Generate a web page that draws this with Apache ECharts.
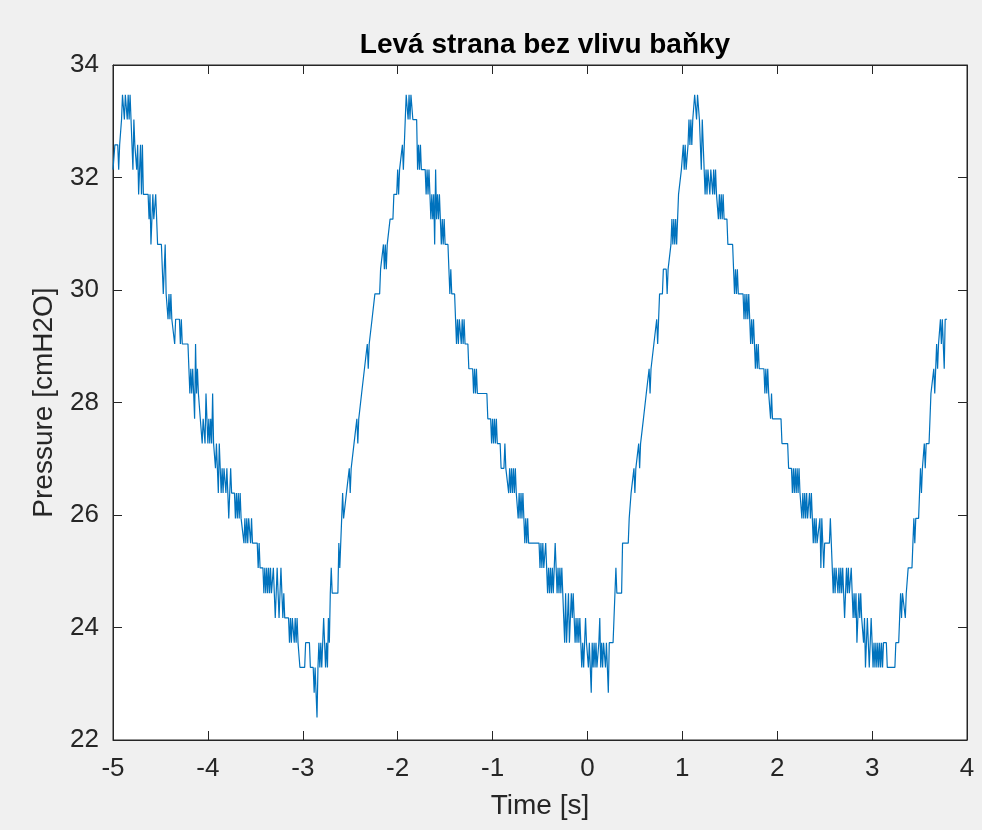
<!DOCTYPE html>
<html>
<head>
<meta charset="utf-8">
<script src="https://cdn.jsdelivr.net/npm/echarts@6/dist/echarts.min.js"></script>
<style>
html,body{margin:0;padding:0;background:#f0f0f0;}
#chart{width:982px;height:830px;}
</style>
</head>
<body>
<div id="chart"></div>
<script>
const chartTitle = 'Levá strana bez vlivu baňky';
const xAxisName = 'Time [s]';
const yAxisName = 'Pressure [cmH2O]';
const xRange = [-5, 4];
const yRange = [22, 34];

// [time (s), pressure (cmH2O)]
const trace = [
[-5.00,32.14],[-4.98,32.58],[-4.95,32.58],[-4.94,32.14],[-4.93,32.58],[-4.92,32.58],[-4.91,33.03],[-4.90,33.47],[-4.89,33.47],[-4.88,33.03],[-4.87,33.47],[-4.86,33.47],[-4.85,33.03],[-4.84,33.47],[-4.83,33.03],[-4.82,33.47],[-4.81,33.03],[-4.80,33.03],[-4.79,32.14],[-4.78,33.03],[-4.77,32.58],[-4.76,32.58],[-4.75,32.14],[-4.74,32.58],[-4.73,31.70],[-4.72,32.14],[-4.71,32.58],[-4.70,31.70],[-4.69,32.58],[-4.68,31.70],[-4.63,31.70],[-4.62,31.26],[-4.61,31.70],[-4.60,30.81],[-4.59,31.26],[-4.58,31.70],[-4.57,31.26],[-4.56,31.26],[-4.55,31.70],[-4.54,31.26],[-4.53,30.81],[-4.49,30.81],[-4.48,30.37],[-4.47,29.93],[-4.46,29.93],[-4.45,30.81],[-4.44,29.93],[-4.43,29.93],[-4.42,29.48],[-4.41,29.93],[-4.40,29.48],[-4.39,29.93],[-4.38,29.48],[-4.36,29.48],[-4.35,29.04],[-4.34,29.48],[-4.30,29.48],[-4.29,29.04],[-4.28,29.48],[-4.27,29.04],[-4.21,29.04],[-4.20,28.60],[-4.19,28.16],[-4.18,28.60],[-4.17,28.16],[-4.16,28.60],[-4.15,28.16],[-4.14,27.71],[-4.13,29.04],[-4.12,28.16],[-4.11,28.60],[-4.10,28.16],[-4.09,28.16],[-4.08,27.71],[-4.07,27.71],[-4.06,27.27],[-4.05,27.71],[-4.04,27.71],[-4.03,27.27],[-4.02,28.16],[-4.01,27.71],[-4.00,27.27],[-3.99,27.71],[-3.98,27.27],[-3.97,27.71],[-3.96,27.27],[-3.95,28.16],[-3.94,27.27],[-3.93,27.27],[-3.92,26.83],[-3.91,27.27],[-3.90,26.83],[-3.89,26.39],[-3.88,27.27],[-3.87,26.83],[-3.86,26.39],[-3.85,26.83],[-3.84,26.39],[-3.83,26.83],[-3.82,26.83],[-3.81,26.39],[-3.80,26.83],[-3.79,26.39],[-3.78,25.94],[-3.77,26.39],[-3.76,26.83],[-3.75,26.39],[-3.72,26.39],[-3.71,25.94],[-3.70,26.39],[-3.69,25.94],[-3.68,26.39],[-3.67,25.94],[-3.66,26.39],[-3.65,25.94],[-3.63,25.94],[-3.62,25.50],[-3.61,25.94],[-3.60,25.50],[-3.59,25.94],[-3.58,25.50],[-3.57,25.94],[-3.56,25.94],[-3.55,25.50],[-3.54,25.94],[-3.53,25.50],[-3.48,25.50],[-3.47,25.06],[-3.46,25.50],[-3.45,25.06],[-3.42,25.06],[-3.41,24.61],[-3.40,25.06],[-3.39,24.61],[-3.38,25.06],[-3.37,24.61],[-3.36,25.06],[-3.35,24.61],[-3.34,25.06],[-3.33,24.61],[-3.32,24.61],[-3.31,25.06],[-3.30,24.61],[-3.29,24.17],[-3.28,24.61],[-3.27,25.06],[-3.26,24.61],[-3.25,24.17],[-3.24,24.61],[-3.23,25.06],[-3.22,24.61],[-3.21,24.17],[-3.20,24.61],[-3.19,24.17],[-3.15,24.17],[-3.14,23.73],[-3.13,24.17],[-3.12,23.73],[-3.11,24.17],[-3.10,24.17],[-3.09,23.73],[-3.08,24.17],[-3.07,23.73],[-3.06,24.17],[-3.05,23.73],[-3.04,23.73],[-3.03,23.29],[-2.98,23.29],[-2.97,23.73],[-2.93,23.73],[-2.92,23.29],[-2.89,23.29],[-2.88,22.84],[-2.87,23.29],[-2.86,22.84],[-2.85,22.40],[-2.84,23.29],[-2.83,23.73],[-2.82,23.29],[-2.81,23.73],[-2.80,23.29],[-2.79,23.73],[-2.78,24.17],[-2.77,23.73],[-2.76,23.29],[-2.75,23.73],[-2.74,23.29],[-2.73,24.17],[-2.72,23.73],[-2.71,24.61],[-2.70,25.06],[-2.69,24.61],[-2.63,24.61],[-2.62,25.50],[-2.61,25.06],[-2.60,25.50],[-2.59,25.94],[-2.58,26.39],[-2.57,25.94],[-2.55,25.94],[-2.54,26.39],[-2.52,26.39],[-2.51,26.83],[-2.50,26.39],[-2.49,26.83],[-2.47,26.83],[-2.46,27.27],[-2.44,27.27],[-2.43,27.71],[-2.42,27.27],[-2.41,27.71],[-2.39,27.71],[-2.38,28.16],[-2.36,28.16],[-2.35,28.60],[-2.33,28.60],[-2.32,29.04],[-2.31,28.60],[-2.30,29.04],[-2.28,29.04],[-2.27,29.48],[-2.25,29.48],[-2.24,29.93],[-2.19,29.93],[-2.18,30.37],[-2.16,30.37],[-2.15,30.81],[-2.14,30.37],[-2.13,30.81],[-2.12,30.37],[-2.11,30.81],[-2.09,30.81],[-2.08,31.26],[-2.05,31.26],[-2.04,31.70],[-2.01,31.70],[-2.00,32.14],[-1.99,31.70],[-1.98,32.14],[-1.96,32.14],[-1.95,32.58],[-1.94,32.14],[-1.93,32.58],[-1.92,33.03],[-1.91,33.47],[-1.90,33.47],[-1.89,33.03],[-1.88,33.47],[-1.87,33.03],[-1.86,33.47],[-1.85,33.47],[-1.84,33.03],[-1.80,33.03],[-1.79,32.14],[-1.78,32.58],[-1.77,32.14],[-1.76,32.58],[-1.75,32.14],[-1.71,32.14],[-1.70,31.70],[-1.69,32.14],[-1.68,31.70],[-1.67,32.14],[-1.66,31.70],[-1.65,31.26],[-1.64,31.70],[-1.63,31.26],[-1.62,31.70],[-1.61,30.81],[-1.60,32.14],[-1.59,31.26],[-1.58,31.70],[-1.57,31.26],[-1.56,31.70],[-1.55,31.26],[-1.54,30.81],[-1.53,31.26],[-1.52,30.81],[-1.51,31.26],[-1.50,30.81],[-1.47,30.81],[-1.46,30.37],[-1.45,29.93],[-1.44,30.37],[-1.43,29.93],[-1.40,29.93],[-1.39,29.48],[-1.38,29.04],[-1.37,29.48],[-1.36,29.04],[-1.35,29.48],[-1.34,29.48],[-1.33,29.04],[-1.32,29.48],[-1.31,29.04],[-1.30,29.48],[-1.29,29.04],[-1.26,29.04],[-1.25,28.60],[-1.21,28.60],[-1.20,28.16],[-1.19,28.60],[-1.18,28.16],[-1.17,28.60],[-1.16,28.16],[-1.06,28.16],[-1.05,27.71],[-1.02,27.71],[-1.01,27.27],[-1.00,27.71],[-0.99,27.27],[-0.98,27.71],[-0.97,27.27],[-0.96,27.71],[-0.95,27.27],[-0.92,27.27],[-0.91,26.83],[-0.88,26.83],[-0.87,27.27],[-0.86,26.83],[-0.84,26.83],[-0.83,26.39],[-0.82,26.83],[-0.81,26.39],[-0.80,26.83],[-0.79,26.39],[-0.78,26.83],[-0.77,26.39],[-0.76,26.83],[-0.75,26.39],[-0.74,26.39],[-0.73,25.94],[-0.72,26.39],[-0.71,25.94],[-0.70,26.39],[-0.69,25.94],[-0.68,26.39],[-0.67,25.94],[-0.66,25.50],[-0.65,25.94],[-0.64,25.50],[-0.63,25.94],[-0.62,25.50],[-0.51,25.50],[-0.50,25.06],[-0.49,25.50],[-0.48,25.06],[-0.47,25.50],[-0.46,25.06],[-0.45,25.06],[-0.44,25.50],[-0.43,25.06],[-0.42,24.61],[-0.41,25.06],[-0.40,24.61],[-0.39,25.06],[-0.38,24.61],[-0.37,25.06],[-0.36,24.61],[-0.35,25.06],[-0.34,25.50],[-0.33,25.06],[-0.32,24.61],[-0.31,25.06],[-0.30,24.61],[-0.29,25.06],[-0.28,24.61],[-0.27,25.06],[-0.26,24.61],[-0.25,24.17],[-0.24,23.73],[-0.23,24.61],[-0.22,23.73],[-0.21,24.17],[-0.20,24.61],[-0.19,23.73],[-0.18,24.17],[-0.17,24.61],[-0.16,24.17],[-0.15,24.61],[-0.14,24.17],[-0.13,23.73],[-0.12,24.17],[-0.11,23.73],[-0.10,24.17],[-0.09,23.73],[-0.08,24.17],[-0.07,23.73],[-0.06,23.29],[-0.05,23.73],[-0.04,23.29],[-0.03,23.73],[-0.02,24.17],[-0.01,23.73],[0.00,23.73],[0.01,23.29],[0.02,23.73],[0.03,23.73],[0.04,22.84],[0.05,23.73],[0.06,23.29],[0.07,23.73],[0.08,23.29],[0.09,23.73],[0.10,23.29],[0.11,23.29],[0.12,23.73],[0.13,24.17],[0.14,23.29],[0.15,23.73],[0.16,23.29],[0.17,23.73],[0.18,23.73],[0.19,23.29],[0.20,23.73],[0.21,23.29],[0.22,22.84],[0.23,23.73],[0.27,23.73],[0.28,24.17],[0.29,24.17],[0.30,25.06],[0.31,24.61],[0.36,24.61],[0.37,25.50],[0.43,25.50],[0.44,25.94],[0.45,25.94],[0.46,26.39],[0.48,26.39],[0.49,26.83],[0.50,26.39],[0.51,26.83],[0.53,26.83],[0.54,27.27],[0.55,26.83],[0.56,27.27],[0.58,27.27],[0.59,27.71],[0.61,27.71],[0.62,28.16],[0.64,28.16],[0.65,28.60],[0.66,28.16],[0.67,28.60],[0.69,28.60],[0.70,29.04],[0.72,29.04],[0.73,29.48],[0.74,29.04],[0.75,29.48],[0.76,29.93],[0.79,29.93],[0.80,30.37],[0.83,30.37],[0.84,29.93],[0.85,30.37],[0.87,30.37],[0.88,30.81],[0.89,31.26],[0.90,30.81],[0.91,31.26],[0.92,30.81],[0.93,31.26],[0.94,30.81],[0.95,31.26],[0.96,31.70],[0.98,31.70],[0.99,32.14],[1.00,32.14],[1.01,32.58],[1.02,32.14],[1.03,32.58],[1.04,32.14],[1.05,32.14],[1.06,32.58],[1.07,33.03],[1.08,32.58],[1.09,33.03],[1.10,32.58],[1.11,33.03],[1.12,33.03],[1.13,33.47],[1.14,33.47],[1.15,33.03],[1.16,33.47],[1.17,33.47],[1.18,33.03],[1.19,33.03],[1.20,32.14],[1.21,33.03],[1.22,33.03],[1.23,32.14],[1.24,31.70],[1.25,32.14],[1.26,31.70],[1.27,32.14],[1.28,32.14],[1.29,31.70],[1.30,32.14],[1.31,32.14],[1.32,31.70],[1.33,32.14],[1.34,31.70],[1.35,32.14],[1.36,31.70],[1.37,31.70],[1.38,31.26],[1.39,31.70],[1.40,31.26],[1.41,31.70],[1.42,31.26],[1.43,31.70],[1.44,31.26],[1.47,31.26],[1.48,30.81],[1.53,30.81],[1.54,30.37],[1.55,29.93],[1.56,30.37],[1.57,29.93],[1.58,30.37],[1.59,29.93],[1.64,29.93],[1.65,29.48],[1.66,29.93],[1.67,29.48],[1.68,29.93],[1.69,29.48],[1.70,29.93],[1.71,29.48],[1.72,29.04],[1.73,29.48],[1.74,29.04],[1.75,29.48],[1.76,29.04],[1.77,28.60],[1.78,29.04],[1.79,28.60],[1.80,29.04],[1.81,28.60],[1.86,28.60],[1.87,28.16],[1.88,28.60],[1.89,28.16],[1.90,28.60],[1.91,28.16],[1.92,28.16],[1.93,27.71],[1.94,28.16],[1.95,27.71],[2.04,27.71],[2.05,27.27],[2.11,27.27],[2.12,26.83],[2.15,26.83],[2.16,26.39],[2.17,26.83],[2.18,26.39],[2.19,26.83],[2.20,26.39],[2.21,26.83],[2.22,26.39],[2.23,26.83],[2.24,26.39],[2.25,26.39],[2.26,25.94],[2.27,26.39],[2.28,25.94],[2.29,26.39],[2.30,25.94],[2.31,26.39],[2.32,25.94],[2.33,25.94],[2.34,26.39],[2.35,25.94],[2.36,26.39],[2.37,25.94],[2.38,25.50],[2.39,25.94],[2.40,25.50],[2.41,25.94],[2.42,25.50],[2.44,25.50],[2.45,25.94],[2.46,25.06],[2.47,25.94],[2.48,25.50],[2.49,25.06],[2.50,25.50],[2.55,25.50],[2.56,25.94],[2.57,25.50],[2.58,25.06],[2.59,24.61],[2.60,25.06],[2.61,24.61],[2.62,25.06],[2.63,25.06],[2.64,24.61],[2.65,25.06],[2.66,24.61],[2.67,25.06],[2.68,24.61],[2.69,25.06],[2.70,24.61],[2.71,24.17],[2.72,24.61],[2.73,25.06],[2.74,24.61],[2.75,25.06],[2.76,24.61],[2.77,24.61],[2.78,25.06],[2.79,24.61],[2.80,24.17],[2.81,24.61],[2.82,24.17],[2.83,24.61],[2.84,23.73],[2.85,24.17],[2.86,24.61],[2.87,24.17],[2.88,24.61],[2.89,24.17],[2.90,24.17],[2.91,23.73],[2.92,24.17],[2.93,23.29],[2.94,23.73],[2.95,24.17],[2.96,23.73],[2.97,23.29],[2.98,23.73],[2.99,24.17],[3.00,23.73],[3.01,23.29],[3.02,23.73],[3.03,23.29],[3.04,23.73],[3.05,23.29],[3.06,23.73],[3.07,23.29],[3.08,23.73],[3.09,23.29],[3.10,23.73],[3.11,23.29],[3.12,23.73],[3.15,23.73],[3.16,23.29],[3.24,23.29],[3.25,23.73],[3.28,23.73],[3.29,24.17],[3.30,24.61],[3.31,24.17],[3.32,24.61],[3.34,24.61],[3.35,24.17],[3.36,24.61],[3.37,24.61],[3.38,25.06],[3.42,25.06],[3.43,25.50],[3.44,25.94],[3.45,25.50],[3.46,25.94],[3.49,25.94],[3.50,26.39],[3.51,26.83],[3.52,26.39],[3.53,26.83],[3.54,26.83],[3.55,27.27],[3.56,26.83],[3.57,27.27],[3.60,27.27],[3.61,27.71],[3.62,28.16],[3.64,28.16],[3.65,28.60],[3.66,28.16],[3.67,28.60],[3.68,29.04],[3.69,28.60],[3.70,29.04],[3.71,29.04],[3.72,29.48],[3.73,29.04],[3.74,29.48],[3.75,29.48],[3.76,28.60],[3.77,29.48],[3.79,29.48]
];

const FONT = '"Liberation Sans", Arial, Helvetica, sans-serif';
const AX = '#262626';
const chart = echarts.init(document.getElementById('chart'), null, {renderer: 'canvas'});

const tickCommon = {show: true, inside: true, length: 9, lineStyle: {color: AX, width: 1}};
const labelCommon = {color: AX, fontFamily: FONT, fontSize: 26};
const lineCommon = {show: true, onZero: false, lineStyle: {color: AX, width: 1}};

chart.setOption({
  backgroundColor: '#f0f0f0',
  animation: false,
  title: {
    text: chartTitle,
    left: 540,
    textAlign: 'center',
    top: 26,
    textStyle: {fontFamily: FONT, fontSize: 28, fontWeight: 'bold', color: '#000'}
  },
  grid: {
    left: 113, right: 15, top: 65, bottom: 90,
    show: true, backgroundColor: '#ffffff', borderColor: AX, borderWidth: 1,
    containLabel: false
  },
  xAxis: [{
    type: 'value', min: xRange[0], max: xRange[1], interval: 1, position: 'bottom',
    axisLine: lineCommon,
    axisTick: tickCommon,
    axisLabel: Object.assign({margin: 16}, labelCommon),
    splitLine: {show: false},
    name: xAxisName, nameLocation: 'middle', nameGap: 52,
    nameTextStyle: {color: AX, fontFamily: FONT, fontSize: 28}
  }, {
    type: 'value', min: xRange[0], max: xRange[1], interval: 1, position: 'top',
    axisLine: lineCommon,
    axisTick: tickCommon, axisLabel: {show: false}, splitLine: {show: false}
  }],
  yAxis: [{
    type: 'value', min: yRange[0], max: yRange[1], interval: 2, position: 'left',
    axisLine: lineCommon,
    axisTick: tickCommon,
    axisLabel: Object.assign({margin: 14}, labelCommon),
    splitLine: {show: false},
    name: yAxisName, nameLocation: 'middle', nameGap: 55, nameRotate: 90,
    nameTextStyle: {color: AX, fontFamily: FONT, fontSize: 28}
  }, {
    type: 'value', min: yRange[0], max: yRange[1], interval: 2, position: 'right',
    axisLine: lineCommon,
    axisTick: tickCommon, axisLabel: {show: false}, splitLine: {show: false}
  }],
  series: [{
    type: 'line',
    data: trace,
    showSymbol: false,
    symbol: 'none',
    lineStyle: {color: '#0072BD', width: 1.2},
    xAxisIndex: 0, yAxisIndex: 0,
    clip: true
  }]
});
</script>
</body>
</html>
